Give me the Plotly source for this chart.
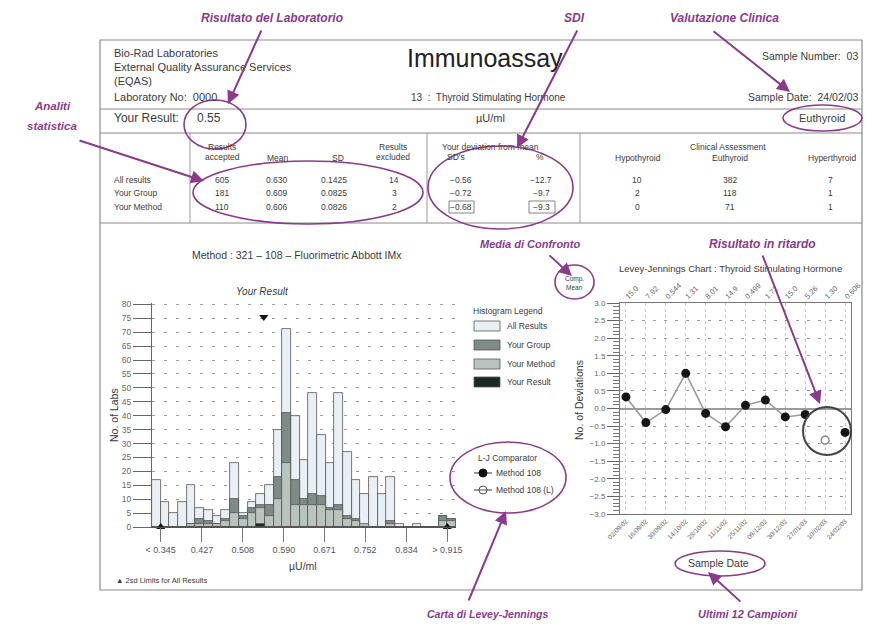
import plotly.graph_objects as go

# ---------------- data ----------------
bin_centers = [0.3364, 0.3536, 0.3709, 0.3882, 0.4055, 0.4227, 0.4400, 0.4573, 0.4745,
               0.4918, 0.5091, 0.5264, 0.5436, 0.5609, 0.5782, 0.5955, 0.6127, 0.6300,
               0.6473, 0.6645, 0.6818, 0.6991, 0.7164, 0.7336, 0.7509, 0.7682, 0.7855,
               0.8027, 0.8200, 0.8373, 0.8545, 0.8718, 0.8891, 0.9064, 0.9236]
all_results = [17, 9, 5, 9, 15, 7, 6, 4, 6, 23, 5, 9, 12, 15, 35, 71, 40, 24, 48, 33,
               23, 48, 27, 17, 12, 18, 12, 18, 1, 0, 1, 0, 0, 4, 3]
your_group = [0, 0, 0, 0, 1, 3, 2, 1, 3, 10, 4, 7, 8, 8, 18, 41, 17, 10, 12, 11,
              7, 8, 4, 3, 0, 0, 0, 2, 0, 0, 0, 0, 0, 4, 3]
your_method = [0, 0, 0, 0, 1, 1, 1, 1, 2, 5, 3, 5, 7, 4, 10, 23, 8, 8, 8, 8,
               6, 6, 3, 2, 1, 0, 0, 1, 0, 0, 0, 0, 0, 2, 2]
your_result_bar = [0, 0, 0, 0, 0, 0, 0, 0, 0, 0, 0, 0, 1, 0, 0, 0, 0, 0, 0, 0,
                   0, 0, 0, 0, 0, 0, 0, 0, 0, 0, 0, 0, 0, 0, 0]
bin_width = 0.01727
hist_tick_vals = [0.345, 0.427, 0.508, 0.590, 0.671, 0.752, 0.834, 0.915]
hist_tick_text = ["< 0.345", "0.427", "0.508", "0.590", "0.671", "0.752", "0.834", "> 0.915"]
your_result_value = 0.55
your_result_marker_y = 75.5
sd2_limits = [0.345, 0.915]

lj_dates = ["02/09/02", "16/09/02", "30/09/02", "14/10/02", "28/10/02", "11/11/02",
            "25/11/02", "09/12/02", "30/12/02", "27/01/03", "10/02/03", "24/02/03"]
lj_comp_means = ["15.0", "7.92", "0.544", "1.31", "8.01", "14.9", "0.499", "1.72",
                 "15.0", "5.26", "1.30", "0.606"]
lj_sdi = [0.33, -0.40, -0.03, 1.00, -0.14, -0.52, 0.09, 0.24, -0.24, -0.17, None, -0.68]
lj_sdi_late = [None, None, None, None, None, None, None, None, None, None, -0.90, None]

stat_rows = ["All results", "Your Group", "Your Method"]
accepted = ["605", "181", "110"]
means = ["0.630", "0.609", "0.606"]
sds = ["0.1425", "0.0825", "0.0826"]
excluded = ["14", "3", "2"]
dev_sd = ["\u22120.56", "\u22120.72", "\u22120.68"]
dev_pct = ["\u221212.7", "\u22129.7", "\u22129.3"]
hypo = ["10", "2", "0"]
euthy = ["382", "118", "71"]
hyper = ["7", "1", "1"]

# ---------------- helpers ----------------
W, H = 884, 628
def X(px): return px / W
def Y(py): return 1 - py / H

PURPLE = "#8a3a8a"
TXT = "#3a3a3a"
FONT = "Liberation Sans, Arial, sans-serif"

annotations = []
shapes = []

def txt(px, py, text, size=9, color=TXT, xanchor="center", yanchor="middle", angle=0):
    annotations.append(dict(x=X(px), y=Y(py), xref="paper", yref="paper", text=text,
                            showarrow=False, xanchor=xanchor, yanchor=yanchor,
                            textangle=angle, font=dict(size=size, color=color, family=FONT)))

def arrow(tx, ty, hx, hy):
    annotations.append(dict(x=X(hx), y=Y(hy), xref="paper", yref="paper", text="",
                            showarrow=True, ax=tx - hx, ay=ty - hy, arrowhead=2,
                            arrowsize=1.3, arrowwidth=2, arrowcolor=PURPLE))

def line(x0, y0, x1, y1, color="#777", width=1):
    shapes.append(dict(type="line", xref="paper", yref="paper", x0=X(x0), y0=Y(y0),
                       x1=X(x1), y1=Y(y1), line=dict(color=color, width=width)))

def rect(x0, y0, x1, y1, fill="rgba(0,0,0,0)", color="#777", width=1):
    shapes.append(dict(type="rect", xref="paper", yref="paper", x0=X(x0), y0=Y(y0),
                       x1=X(x1), y1=Y(y1), fillcolor=fill, line=dict(color=color, width=width)))

def ellipse(x0, y0, x1, y1, color=PURPLE, width=1.6, fill="rgba(0,0,0,0)"):
    shapes.append(dict(type="circle", xref="paper", yref="paper", x0=X(x0), y0=Y(y0),
                       x1=X(x1), y1=Y(y1), fillcolor=fill, line=dict(color=color, width=width)))

# ---------------- figure ----------------
fig = go.Figure()

C_ALL = "#e8eff5"
C_GROUP = "#7d8c86"
C_METHOD = "#b9c4bc"
C_RESULT = "#1b2a20"
outline = dict(color="#555", width=0.8)

fig.add_trace(go.Bar(x=bin_centers, y=all_results, width=bin_width, marker=dict(color=C_ALL, line=outline),
                     name="All Results", xaxis="x", yaxis="y"))
fig.add_trace(go.Bar(x=bin_centers, y=your_group, width=bin_width, marker=dict(color=C_GROUP, line=outline),
                     name="Your Group", xaxis="x", yaxis="y"))
fig.add_trace(go.Bar(x=bin_centers, y=your_method, width=bin_width, marker=dict(color=C_METHOD, line=outline),
                     name="Your Method", xaxis="x", yaxis="y"))
fig.add_trace(go.Bar(x=bin_centers, y=your_result_bar, width=bin_width, marker=dict(color=C_RESULT, line=outline),
                     name="Your Result", xaxis="x", yaxis="y"))
fig.add_trace(go.Scatter(x=sd2_limits, y=[0, 0], mode="markers", cliponaxis=False,
                         marker=dict(symbol="triangle-up", size=8, color="#111"),
                         xaxis="x", yaxis="y", name="2sd"))
fig.add_trace(go.Scatter(x=[your_result_value], y=[your_result_marker_y], mode="markers", cliponaxis=False,
                         marker=dict(symbol="triangle-down", size=8, color="#111"),
                         xaxis="x", yaxis="y", name="Your result"))

# Levey-Jennings
fig.add_trace(go.Scatter(x=lj_dates, y=lj_sdi, mode="lines+markers", connectgaps=False,
                         line=dict(color="#9a9a9a", width=1.6),
                         marker=dict(size=9, color="#151515"), xaxis="x2", yaxis="y2", name="Method 108"))
fig.add_trace(go.Scatter(x=lj_dates, y=lj_sdi_late, mode="markers",
                         marker=dict(size=8, color="white", line=dict(color="#777", width=1.2)),
                         xaxis="x2", yaxis="y2", name="Method 108 (L)"))
fig.add_trace(go.Scatter(x=lj_dates, y=[0] * len(lj_dates), mode="markers", hovertext=lj_comp_means,
                         marker=dict(size=1, opacity=0), xaxis="x3", yaxis="y2", name="Comp Mean"))

fig.update_layout(
    width=W, height=H, margin=dict(l=0, r=0, t=0, b=0, pad=0, autoexpand=False),
    paper_bgcolor="white", plot_bgcolor="rgba(0,0,0,0)",
    showlegend=False, barmode="overlay", bargap=0,
    font=dict(family=FONT, color=TXT),
    xaxis=dict(domain=[X(152), X(456)], range=[0.3277, 0.9323], anchor="y",
               tickmode="array", tickvals=hist_tick_vals, ticktext=hist_tick_text,
               ticks="outside", ticklen=14, tickcolor="#777", showline=True, linecolor="#555",
               showgrid=False, zeroline=False, tickfont=dict(size=9, color="#555")),
    yaxis=dict(domain=[Y(527), Y(303)], range=[0, 80.5], anchor="x", tickmode="linear", tick0=0, dtick=5,
               ticks="outside", ticklen=18, tickcolor="#666", showline=True, linecolor="#666",
               showgrid=True, gridcolor="#9a9a9a", griddash="3px,9px", zeroline=False,
               tickfont=dict(size=8.5, color="#666")),
    xaxis2=dict(domain=[X(620), X(851)], range=[-0.3, 11.3], anchor="y2", type="category",
                categoryorder="array", categoryarray=lj_dates, tickangle=-45, ticks="",
                showline=True, mirror=True, linecolor="#777", showgrid=True, gridcolor="#c4c4c4",
                griddash="dot", tickfont=dict(size=6.5, color="#666")),
    xaxis3=dict(overlaying="x2", anchor="y2", side="top", range=[-0.3, 11.3], type="category",
                categoryorder="array", categoryarray=lj_dates, tickmode="array", tickvals=lj_dates,
                ticktext=lj_comp_means, tickangle=-45, ticks="", showgrid=False, showline=False,
                tickfont=dict(size=7.5, color="#666")),
    yaxis2=dict(domain=[Y(514), Y(303)], range=[-3, 3], anchor="x2", tickmode="linear", tick0=0, dtick=0.5,
                tickformat=".1f", ticks="outside", ticklen=12, tickcolor="#666",
                minor=dict(tickmode="linear", tick0=0, dtick=0.1, ticks="outside", ticklen=6,
                           tickcolor="#777", showgrid=False),
                showline=True, mirror=True, linecolor="#777", showgrid=True, gridcolor="#9a9a9a",
                griddash="3px,8px", zeroline=True, zerolinecolor="#9a9a9a", zerolinewidth=2,
                tickfont=dict(size=8, color="#666")),
)

# ---------------- report frame ----------------
rect(100, 40, 862, 590, color="#8a8a8a", width=1.2)
line(100, 109, 862, 109, "#8a8a8a", 1.2)
line(100, 133, 862, 133, "#8a8a8a", 1.2)
line(100, 223, 862, 223, "#8a8a8a", 1.2)
line(190, 133, 190, 223, "#9a9a9a", 1)
line(427, 133, 427, 223, "#9a9a9a", 1)
line(580, 133, 580, 223, "#9a9a9a", 1)

# header
txt(112, 53, "Bio-Rad Laboratories", 11, xanchor="left")
txt(112, 67, "External Quality Assurance Services", 11, xanchor="left")
txt(112, 81, "(EQAS)", 11, xanchor="left")
txt(112, 97, "Laboratory No:  0000", 11, xanchor="left")
txt(485, 58, "Immunoassay", 25, color="#222")
txt(488, 97, "13  :  Thyroid Stimulating Hormone", 10)
txt(860, 56, "Sample Number:  03", 10.5, xanchor="right")
txt(860, 97, "Sample Date:  24/02/03", 10.5, xanchor="right")
txt(112, 118, "Your Result:", 12, xanchor="left")
txt(195, 118, "0.55", 12, xanchor="left")
txt(490, 118, "\u00b5U/ml", 11)
txt(822, 118, "Euthyroid", 11)

# table
txt(222, 147, "Results", 8.5); txt(222, 157, "accepted", 8.5)
txt(278, 158, "Mean", 8.5)
txt(338, 158, "SD", 8.5)
txt(393, 147, "Results", 8.5); txt(393, 157, "excluded", 8.5)
txt(490, 147, "Your deviation from mean", 8.5)
txt(456, 157, "SD's", 8.5)
txt(540, 157, "%", 8.5)
txt(728, 147, "Clinical Assessment", 8.5)
txt(638, 158, "Hypothyroid", 8.5)
txt(730, 158, "Euthyroid", 8.5)
txt(832, 158, "Hyperthyroid", 8.5)
row_y = [180, 193, 207]
for i, ry in enumerate(row_y):
    txt(112, ry, stat_rows[i], 8.5, xanchor="left")
    txt(222, ry, accepted[i], 8.5)
    txt(277, ry, means[i], 8.5)
    txt(334, ry, sds[i], 8.5)
    txt(394, ry, excluded[i], 8.5)
    txt(461, ry, dev_sd[i], 8.5)
    txt(541, ry, dev_pct[i], 8.5)
    txt(637, ry, hypo[i], 8.5)
    txt(730, ry, euthy[i], 8.5)
    txt(830, ry, hyper[i], 8.5)
rect(449, 201, 474, 213, color="#666", width=0.8)
rect(529, 201, 555, 213, color="#666", width=0.8)

# histogram texts
txt(297, 255, "Method : 321 \u2013 108 \u2013 Fluorimetric Abbott IMx", 10.5)
txt(262, 291, "<i>Your Result</i>", 10)
txt(114, 415, "No. of Labs", 10.5, angle=-90)
txt(303, 566, "\u00b5U/ml", 10.5)
txt(114, 580, "\u25b2 2sd Limits for All Results", 7.5, xanchor="left")

# histogram legend
txt(508, 311, "Histogram Legend", 8.5)
leg_items = [("All Results", C_ALL, 326), ("Your Group", C_GROUP, 345),
             ("Your Method", C_METHOD, 364), ("Your Result", C_RESULT, 382)]
for name, col, yy in leg_items:
    rect(474, yy - 5, 500, yy + 5, fill=col, color="#555", width=0.8)
    txt(505, yy, name, 8.5, xanchor="left")

# L-J comparator legend
txt(508, 458, "L-J Comparator", 8.5)
line(474, 473, 492, 473, "#555", 1.2)
ellipse(479, 469, 487, 477, color="#111", width=1, fill="#111")
txt(494, 473, "Method 108", 8.5, xanchor="left")
line(474, 490, 492, 490, "#555", 1.2)
ellipse(479, 486, 487, 494, color="#555", width=1, fill="white")
line(479, 490, 487, 490, "#555", 1)
txt(494, 490, "Method 108 (L)", 8.5, xanchor="left")

# Levey-Jennings texts
txt(730, 268, "Levey-Jennings Chart : Thyroid Stimulating Hormone", 9.5)
txt(574, 279, "Comp.", 6.5)
txt(574, 287, "Mean", 6.5)
txt(579, 400, "No. of Deviations", 10.5, angle=-90)
txt(718, 563, "Sample Date", 10.5)
ellipse(803, 407, 851, 455, color="#444", width=2)

# ---------------- purple callouts ----------------
def ptxt(px, py, text, size=12):
    txt(px, py, "<b><i>" + text + "</i></b>", size, color=PURPLE)

ptxt(272, 18, "Risultato del Laboratorio", 12)
ptxt(574, 18, "SDI", 12)
ptxt(724, 18, "Valutazione Clinica", 12)
ptxt(52, 106, "Analiti", 11.5)
ptxt(52, 126, "statistica", 11.5)
ptxt(530, 244, "Media di Confronto", 11)
ptxt(762, 244, "Risultato in ritardo", 12)
ptxt(488, 614, "Carta di Levey-Jennings", 10.5)
ptxt(748, 614, "Ultimi 12 Campioni", 11)

arrow(262, 29, 228, 104)
arrow(578, 29, 517, 148)
arrow(712, 30, 790, 92)
arrow(78, 140, 204, 181)
arrow(548, 254, 572, 276)
arrow(762, 254, 820, 404)
arrow(468, 602, 506, 511)
arrow(742, 603, 708, 572)

ellipse(184, 100, 246, 149)
ellipse(193, 161, 423, 224)
ellipse(428, 146, 573, 229)
ellipse(783, 105, 862, 131)
ellipse(555, 265, 594, 299)
ellipse(450, 442, 566, 513)
ellipse(675, 551, 765, 576)

fig.update_layout(annotations=annotations, shapes=shapes)
fig.write_html("out.html", config={"displayModeBar": False},
               post_script="document.documentElement.style.margin='0';"
                           "document.body.style.margin='0';document.body.style.padding='0';"
                           "document.body.style.overflow='hidden';")
